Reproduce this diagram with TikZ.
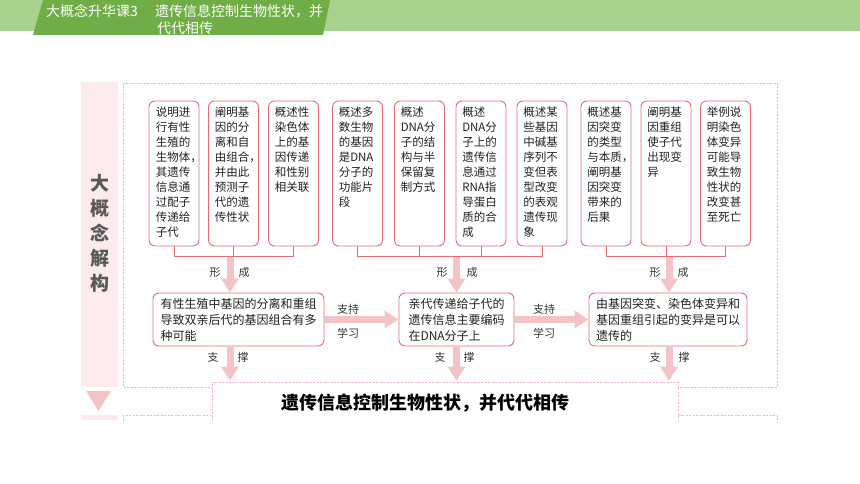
\documentclass[tikz,border=0pt]{standalone}
\usepackage{fontspec}
\setmainfont{Noto Sans CJK SC}
\usetikzlibrary{arrows.meta}
\definecolor{lg}{HTML}{A9D18E}
\definecolor{dg}{HTML}{70AD47}
\definecolor{bred}{HTML}{E36C76}
\definecolor{apink}{HTML}{F2C3C7}
\definecolor{fpink}{HTML}{F4B6BB}
\definecolor{spink}{HTML}{FBEBEC}
\definecolor{txt}{HTML}{231F20}
\begin{document}
\begin{tikzpicture}[x=1pt,y=-1pt,
  topbox/.style={draw=bred, line width=0.9pt, rounded corners=6pt, minimum width=50pt, minimum height=145pt, inner sep=0pt},
  toptext/.style={anchor=north west, align=left, inner sep=0pt, font=\fontsize{11.5}{15}\selectfont, text=txt},
  midbox/.style={draw=bred, line width=0.9pt, rounded corners=6pt, minimum height=53pt, align=left, font=\fontsize{12}{16}\selectfont, inner sep=0pt, text=txt, fill=white},
  bigarrow/.style={draw=apink, line width=7pt, -{Triangle[width=17pt,length=14pt]}},
  bracket/.style={draw=bred, line width=0.9pt},
  lbl/.style={font=\fontsize{11}{13}\selectfont, text=black!80, inner sep=0pt},
  frame/.style={draw=fpink, line width=0.7pt, dash pattern=on 2pt off 1.5pt},
  hdr/.style={anchor=west, inner sep=0pt, text=white, font=\fontsize{14}{17}\selectfont}
]
\useasboundingbox (0,0) rectangle (860,484);
% header
\fill[lg] (0,0) rectangle (860,31);
\fill[dg] (43,0) -- (330,0) -- (323,35) -- (33,35) -- cycle;
\node[hdr] (h1) at (46,11) {大概念升华课3};
\node[hdr] (h2) at (155,11) {遗传信息控制生物性状，并};
\node[hdr] (h3) at (157,28) {代代相传};
% left strip
\fill[spink] (81,82) rectangle (118,387);
\fill[apink] (86,391) -- (111,391) -- (98.5,411) -- cycle;
\fill[spink] (81,415) rectangle (118,420);
\node[align=center, inner sep=0pt, text=black!65, font=\bfseries\fontsize{19}{25}\selectfont] (side) at (99.5,233) {大\\概\\念\\解\\构};
% frames
\draw[frame] (123,83) rectangle (777,387);
\begin{scope}
\clip (0,0) rectangle (860,420);
\draw[frame] (123,415) rectangle (777,500);
\node[frame, fill=white, minimum width=466pt, minimum height=60pt, inner sep=0pt] (goal) at (445,412) {};
\end{scope}
\node[inner sep=0pt, text=black, font=\bfseries\fontsize{18}{20}\selectfont] (goaltext) at (425,403) {遗传信息控制生物性状，并代代相传};
% top boxes
\node[topbox] (b1) at (174,173.5) {};
\node[topbox] (b2) at (233.5,173.5) {};
\node[topbox] (b3) at (293.5,173.5) {};
\node[topbox] (b4) at (357.5,173.5) {};
\node[topbox] (b5) at (419.5,173.5) {};
\node[topbox] (b6) at (481,173.5) {};
\node[topbox] (b7) at (542,173.5) {};
\node[topbox] (b8) at (606,173.5) {};
\node[topbox] (b9) at (666,173.5) {};
\node[topbox] (b10) at (725.5,173.5) {};
\node[toptext] (t1) at ([xshift=7pt,yshift=-6pt]b1.north west) {说明进\\行有性\\生殖的\\生物体，\\其遗传\\信息通\\过配子\\传递给\\子代};
\node[toptext] (t2) at ([xshift=6.5pt,yshift=-6pt]b2.north west) {阐明基\\因的分\\离和自\\由组合，\\并由此\\预测子\\代的遗\\传性状};
\node[toptext] (t3) at ([xshift=6.5pt,yshift=-6pt]b3.north west) {概述性\\染色体\\上的基\\因传递\\和性别\\相关联};
\node[toptext] (t4) at ([xshift=6.5pt,yshift=-6pt]b4.north west) {概述多\\数生物\\的基因\\是DNA\\分子的\\功能片\\段};
\node[toptext] (t5) at ([xshift=6.5pt,yshift=-6pt]b5.north west) {概述\\DNA分\\子的结\\构与半\\保留复\\制方式};
\node[toptext] (t6) at ([xshift=6.5pt,yshift=-6pt]b6.north west) {概述\\DNA分\\子上的\\遗传信\\息通过\\RNA指\\导蛋白\\质的合\\成};
\node[toptext] (t7) at ([xshift=6.5pt,yshift=-6pt]b7.north west) {概述某\\些基因\\中碱基\\序列不\\变但表\\型改变\\的表观\\遗传现\\象};
\node[toptext] (t8) at ([xshift=6.5pt,yshift=-6pt]b8.north west) {概述基\\因突变\\的类型\\与本质，\\阐明基\\因突变\\带来的\\后果};
\node[toptext] (t9) at ([xshift=6.5pt,yshift=-6pt]b9.north west) {阐明基\\因重组\\使子代\\出现变\\异};
\node[toptext] (t10) at ([xshift=6.5pt,yshift=-6pt]b10.north west) {举例说\\明染色\\体变异\\可能导\\致生物\\性状的\\改变甚\\至死亡};
% brackets
\draw[bracket] (b1.south) -- ++(0,10) -| (b3.south);
\draw[bracket] (b2.south) -- ++(0,10);
\draw[bracket] (b4.south) -- ++(0,10) -| (b7.south);
\draw[bracket] (b5.south) -- ++(0,10);
\draw[bracket] (b6.south) -- ++(0,10);
\draw[bracket] (b8.south) -- ++(0,10) -| (b10.south);
\draw[bracket] (b9.south) -- ++(0,10);
% middle boxes
\node[midbox, minimum width=171pt] (m1) at (238.5,319.5) {有性生殖中基因的分离和重组\\导致双亲后代的基因组合有多\\种可能};
\node[midbox, minimum width=115pt] (m2) at (456.5,319.5) {亲代传递给子代的\\遗传信息主要编码\\在DNA分子上};
\node[midbox, minimum width=158pt] (m3) at (668,319.5) {由基因突变、染色体变异和\\基因重组引起的变异是可以\\遗传的};
% arrow start points
\coordinate (f1) at (230,257);
\coordinate (f2) at (456.5,257);
\coordinate (f3) at (669,257);
\coordinate (s1) at (230,347);
\coordinate (s2) at (456.5,347);
\coordinate (s3) at (669,347);
\draw[bigarrow] (f1) -- (f1 |- m1.north);
\draw[bigarrow] (f2) -- (f2 |- m2.north);
\draw[bigarrow] (f3) -- (f3 |- m3.north);
\draw[bigarrow] (s1) -- ([yshift=1pt]s1 |- goal.north);
\draw[bigarrow] (s2) -- ([yshift=1pt]s2 |- goal.north);
\draw[bigarrow] (s3) -- ([yshift=1pt]s3 |- goal.north);
\draw[bigarrow] (m1.east) -- (m2.west);
\draw[bigarrow] (m2.east) -- (m3.west);
% labels
\node[lbl] (x1) at (215,272) {形};
\node[lbl] (y1) at (244,272) {成};
\node[lbl] (x2) at (442,272) {形};
\node[lbl] (y2) at (472,272) {成};
\node[lbl] (x3) at (655,272) {形};
\node[lbl] (y3) at (683,272) {成};
\node[lbl] (z1) at (213,357) {支};
\node[lbl] (w1) at (243,357) {撑};
\node[lbl] (z2) at (440,357) {支};
\node[lbl] (w2) at (469,357) {撑};
\node[lbl] (z3) at (655,357) {支};
\node[lbl] (w3) at (684,357) {撑};
\node[lbl] (p1) at (348,309) {支持};
\node[lbl] (q1) at (348,333) {学习};
\node[lbl] (p2) at (544,309) {支持};
\node[lbl] (q2) at (544,333) {学习};
\end{tikzpicture}
\end{document}
